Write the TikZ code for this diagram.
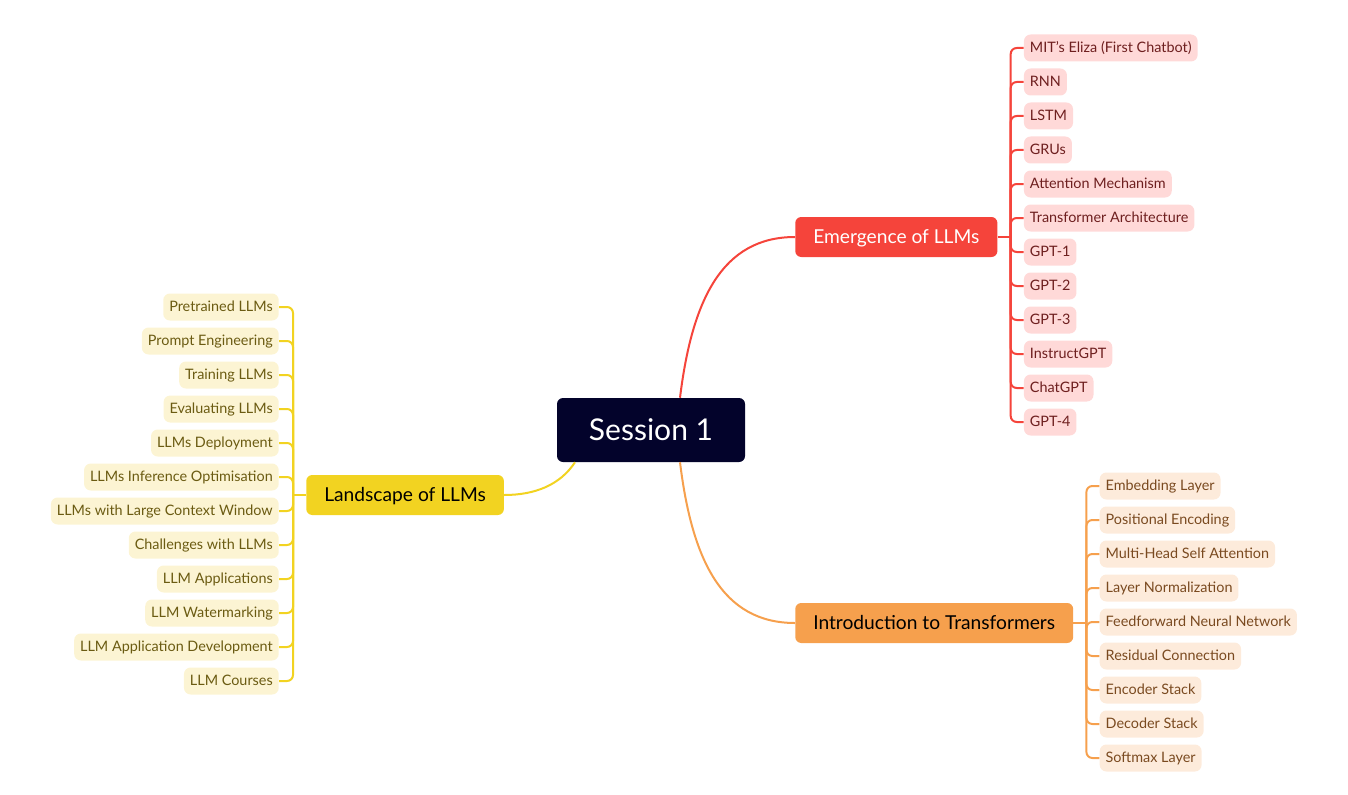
\documentclass[tikz,border=0pt]{standalone}
\usepackage{fontspec}
\setmainfont{Lato}
\usetikzlibrary{calc}
\definecolor{navy}{HTML}{03032B}
\definecolor{redmain}{HTML}{F5443B}
\definecolor{redleaf}{HTML}{FFD9D8}
\definecolor{redtext}{HTML}{6E1F1F}
\definecolor{orgmain}{HTML}{F6A04D}
\definecolor{orgleaf}{HTML}{FDEBDB}
\definecolor{orgtext}{HTML}{7A4A20}
\definecolor{ylwmain}{HTML}{F2D321}
\definecolor{ylwleaf}{HTML}{FCF4D3}
\definecolor{ylwtext}{HTML}{6B5B12}
\begin{document}
\begin{tikzpicture}[x=0.75pt,y=-0.75pt,
    topic/.style={rounded corners=4.5pt,inner xsep=13.5pt,inner ysep=0pt,text height=13pt,text depth=3pt,minimum height=30pt,font=\fontsize{14.4pt}{17pt}\selectfont},
    leaf/.style={rounded corners=5pt,inner xsep=4.5pt,inner ysep=0pt,text height=9.3pt,text depth=2.5pt,minimum height=20.25pt,font=\fontsize{10.8pt}{12pt}\selectfont},
    branch/.style={line width=1.5pt,rounded corners=4.5pt}]
    \pgfmathsetmacro{\leafstep}{34}
    \pgfmathsetmacro{\stubgap}{13}
    \useasboundingbox (0,0) rectangle (1348,795);
    % central topic
    \node[fill=navy,text=white,rounded corners=4.5pt,minimum width=141pt,minimum height=48pt,font=\fontsize{22.5pt}{26pt}\selectfont] (session) at (651,430) {Session 1};
    % main branches
    \node[topic,fill=redmain,text=white,anchor=west] (emerg) at (795,237) {Emergence of LLMs};
    \node[topic,fill=orgmain,text=black,anchor=west] (intro) at (795,623) {Introduction to Transformers};
    \node[topic,fill=ylwmain,text=black,anchor=west] (land) at (306,495) {Landscape of LLMs};
    \coordinate (sesred) at ($(session.north)+(29,0)$);
    \coordinate (sesorg) at ($(session.south)+(29,0)$);
    \coordinate (sesylw) at ($(session.south)+(-76,0)$);
    \draw[line width=1.5pt,redmain] (sesred) .. controls (692,300) and (722,237) .. (emerg.west);
    \draw[line width=1.5pt,orgmain] (sesorg) .. controls (692,560) and (722,623) .. (intro.west);
    \draw[line width=1.5pt,ylwmain] (sesylw) .. controls (560,485) and (535,495) .. (land.east);
    % Emergence of LLMs
    \coordinate (erstub) at ($(emerg.east)+(\stubgap,0)$);
    \coordinate (erleft) at ($(erstub)+(\stubgap,0)$);
    \draw[line width=1.5pt,redmain] (emerg.east) -- (erstub);
    \foreach \t [count=\i] in {MIT’s Eliza (First Chatbot),RNN,LSTM,GRUs,Attention Mechanism,Transformer Architecture,GPT-1,GPT-2,GPT-3,InstructGPT,ChatGPT,GPT-4}{
        \pgfmathsetmacro{\yy}{48+\leafstep*(\i-1)}
        \node[leaf,fill=redleaf,text=redtext,anchor=west] (er\i) at (erleft |- 0,\yy) {\t};
        \draw[branch,redmain] (erstub) |- (er\i.west);
    }
    % Introduction to Transformers
    \coordinate (itstub) at ($(intro.east)+(\stubgap,0)$);
    \coordinate (itleft) at ($(itstub)+(\stubgap,0)$);
    \draw[line width=1.5pt,orgmain] (intro.east) -- (itstub);
    \foreach \t [count=\i] in {Embedding Layer,Positional Encoding,Multi-Head Self Attention,Layer Normalization,Feedforward Neural Network,Residual Connection,Encoder Stack,Decoder Stack,Softmax Layer}{
        \pgfmathsetmacro{\yy}{486+\leafstep*(\i-1)}
        \node[leaf,fill=orgleaf,text=orgtext,anchor=west] (it\i) at (itleft |- 0,\yy) {\t};
        \draw[branch,orgmain] (itstub) |- (it\i.west);
    }
    % Landscape of LLMs
    \coordinate (llstub) at ($(land.west)+(-\stubgap,0)$);
    \coordinate (llright) at ($(llstub)+(-14,0)$);
    \draw[line width=1.5pt,ylwmain] (land.west) -- (llstub);
    \foreach \t [count=\i] in {Pretrained LLMs,Prompt Engineering,Training LLMs,Evaluating LLMs,LLMs Deployment,LLMs Inference Optimisation,LLMs with Large Context Window,Challenges with LLMs,LLM Applications,LLM Watermarking,LLM Application Development,LLM Courses}{
        \pgfmathsetmacro{\yy}{307+\leafstep*(\i-1)}
        \node[leaf,fill=ylwleaf,text=ylwtext,anchor=east] (ll\i) at (llright |- 0,\yy) {\t};
        \draw[branch,ylwmain] (llstub) |- (ll\i.east);
    }
\end{tikzpicture}
\end{document}
